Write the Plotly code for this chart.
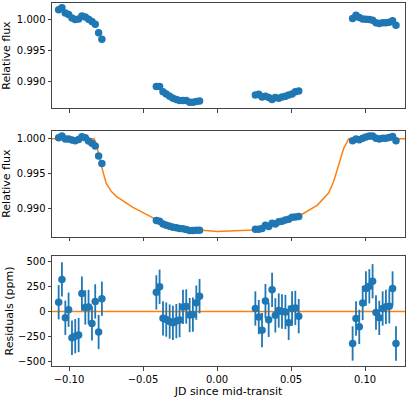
import plotly.graph_objects as go
from plotly.subplots import make_subplots

# time since mid-transit (days), four observing chunks
jd = [-0.1070, -0.1048, -0.1025, -0.1003, -0.0980, -0.0958, -0.0935, -0.0913, -0.0890, -0.0868, -0.0845, -0.0823, -0.0800, -0.0778,
      -0.0410, -0.0388, -0.0365, -0.0343, -0.0320, -0.0298, -0.0275, -0.0253, -0.0230, -0.0208, -0.0185, -0.0163, -0.0140, -0.0118,
      0.0259, 0.0282, 0.0304, 0.0327, 0.0349, 0.0372, 0.0394, 0.0417, 0.0439, 0.0462, 0.0484, 0.0507, 0.0529, 0.0552,
      0.0916, 0.0939, 0.0961, 0.0984, 0.1006, 0.1029, 0.1051, 0.1074, 0.1096, 0.1119, 0.1141, 0.1164, 0.1186, 0.1209]

# raw relative flux (top panel)
flux_raw = [1.00153, 1.00184, 1.00100, 1.00074, 1.00021, 0.99995, 1.00005, 1.00053, 1.00037, 1.00000, 0.99963, 0.99921, 0.99784, 0.99679,
            0.98921, 0.98921, 0.98837, 0.98800, 0.98763, 0.98732, 0.98711, 0.98695, 0.98695, 0.98695, 0.98668, 0.98668, 0.98679, 0.98689,
            0.98784, 0.98795, 0.98753, 0.98763, 0.98742, 0.98711, 0.98742, 0.98732, 0.98753, 0.98763, 0.98784, 0.98800, 0.98837, 0.98847,
            1.00011, 1.00063, 1.00026, 1.00005, 1.00000, 0.99995, 0.99984, 0.99942, 0.99932, 0.99942, 0.99942, 0.99953, 0.99974, 0.99905]

# detrended relative flux (middle panel)
flux_det = [1.00014, 1.00038, 0.99995, 0.99995, 0.99981, 0.99971, 0.99990, 1.00029, 1.00014, 0.99967, 0.99933, 0.99895, 0.99752, 0.99643,
            0.98824, 0.98814, 0.98776, 0.98757, 0.98743, 0.98729, 0.98719, 0.98710, 0.98705, 0.98695, 0.98681, 0.98681, 0.98686, 0.98686,
            0.98700, 0.98700, 0.98710, 0.98757, 0.98738, 0.98786, 0.98776, 0.98805, 0.98814, 0.98833, 0.98843, 0.98871, 0.98876, 0.98881,
            0.99971, 0.99995, 0.99986, 1.00005, 1.00024, 1.00038, 1.00038, 1.00005, 0.99995, 1.00005, 1.00005, 1.00019, 1.00033, 0.99971]

# residuals (ppm)
resid = [92, 318, -62, 18, -260, -245, -233, 178, 40, 45, -118, 100, -203, 127,
         190, 245, -68, -80, -100, -112, -95, -85, 45, 50, -35, -30, 88, 152,
         30, -55, -185, 103, -82, 215, -38, 10, 0, -5, -112, 30, 35, -46,
         -317, -69, -152, 85, 228, 250, 300, -10, -63, 30, 46, 52, 228, -317]
resid_err = 170

# transit model curve
model_t = [-0.1115, -0.0830, -0.0817, -0.0794, -0.0771, -0.0749, -0.0715, -0.0681, -0.0568, -0.0410, -0.0297, -0.0161, 0.0000,
           0.0246, 0.0382, 0.0563, 0.0676, 0.0754, 0.0788, 0.0822, 0.0856, 0.0890, 0.1270]
model_f = [1.00000, 1.00000, 0.99933, 0.99719, 0.99529, 0.99362, 0.99243, 0.99171, 0.99014, 0.98838, 0.98767, 0.98695, 0.98667,
           0.98690, 0.98767, 0.98900, 0.99043, 0.99219, 0.99386, 0.99624, 0.99862, 1.00000, 1.00000]

flux_ticks = [0.990, 0.995, 1.000]
resid_ticks = [-500, -250, 0, 250, 500]

blue = '#1f77b4'
orange = '#ff7f0e'
title_font = dict(family='DejaVu Sans', size=11, color='black')

fig = make_subplots(rows=3, cols=1, shared_xaxes=True)
fig.add_trace(go.Scatter(x=jd, y=flux_raw, mode='markers', marker=dict(color=blue, size=7.5)), row=1, col=1)
fig.add_trace(go.Scatter(x=model_t, y=model_f, mode='lines', line=dict(color=orange, width=1.5)), row=2, col=1)
fig.add_trace(go.Scatter(x=jd, y=flux_det, mode='markers', marker=dict(color=blue, size=7.5)), row=2, col=1)
fig.add_trace(go.Scatter(x=[model_t[0], model_t[-1]], y=[0, 0], mode='lines', line=dict(color=orange, width=1.5)), row=3, col=1)
fig.add_trace(go.Scatter(x=jd, y=resid, mode='markers', marker=dict(color=blue, size=7.5),
                         error_y=dict(type='constant', value=resid_err, color=blue, thickness=1.8, width=0)), row=3, col=1)

axis_style = dict(showline=True, linecolor='#444', linewidth=1, mirror=True, ticks='outside', ticklen=3.5,
                  tickcolor='#444', showgrid=False, zeroline=False)
for r in (1, 2, 3):
    fig.update_xaxes(range=[-0.1115, 0.127], tickvals=[-0.10, -0.05, 0.00, 0.05, 0.10], tickformat='.2f',
                     row=r, col=1, **axis_style)
    fig.update_yaxes(row=r, col=1, **axis_style)
fig.update_xaxes(showticklabels=False, row=1, col=1)
fig.update_xaxes(showticklabels=False, row=2, col=1)
fig.update_xaxes(title_text='JD since mid-transit', title_font=title_font, title_standoff=4, row=3, col=1)

fig.update_yaxes(range=[0.98575, 1.0026], tickvals=flux_ticks, tickformat='.3f', title_text='Relative flux',
                 title_font=title_font, title_standoff=6, row=1, col=1)
fig.update_yaxes(range=[0.98592, 1.00115], tickvals=flux_ticks, tickformat='.3f', title_text='Relative flux',
                 title_font=title_font, title_standoff=6, row=2, col=1)
fig.update_yaxes(range=[-540, 550], tickvals=resid_ticks, title_text='Residuals (ppm)',
                 title_font=title_font, title_standoff=2, row=3, col=1)

fig.update_layout(
    width=407, height=398, showlegend=False,
    margin=dict(l=52, r=2, t=3, b=32),
    plot_bgcolor='white', paper_bgcolor='white',
    font=dict(family='DejaVu Sans', size=10, color='black'),
    yaxis=dict(domain=[0.7107, 1.0]),
    yaxis2=dict(domain=[0.3562, 0.6482]),
    yaxis3=dict(domain=[0.0, 0.303]),
)
fig.write_html("out.html", config={'displayModeBar': False},
               post_script="document.body.style.margin='0';")
